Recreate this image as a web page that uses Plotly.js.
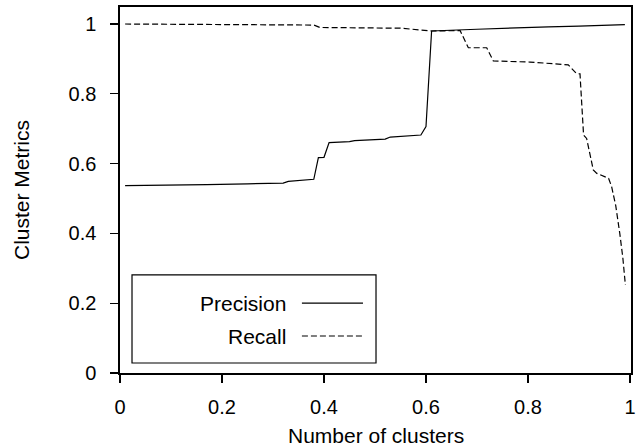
<!DOCTYPE html>
<html>
<head>
<meta charset="utf-8">
<script src="https://cdn.plot.ly/plotly-3.0.1.min.js"></script>
<style>html,body{margin:0;padding:0;background:#fff;}#chart{width:641px;height:446px;}</style>
</head>
<body>
<div id="chart"></div>
<script>
// Data
const precisionX = [0.01, 0.13, 0.17, 0.25, 0.32, 0.33, 0.35, 0.38, 0.389, 0.40, 0.41, 0.45, 0.46, 0.52, 0.53, 0.59, 0.60, 0.603, 0.611, 0.70, 0.78, 0.84, 0.90, 0.99];
const precisionY = [0.537, 0.538, 0.540, 0.542, 0.544, 0.549, 0.551, 0.555, 0.617, 0.618, 0.660, 0.663, 0.666, 0.670, 0.676, 0.682, 0.706, 0.780, 0.980, 0.985, 0.990, 0.992, 0.994, 0.998];
const recallX = [0.01, 0.38, 0.392, 0.55, 0.611, 0.667, 0.683, 0.719, 0.732, 0.804, 0.879, 0.895, 0.902, 0.909, 0.915, 0.928, 0.935, 0.958, 0.964, 0.972, 0.980, 0.986, 0.991];
const recallY = [1.0, 0.997, 0.990, 0.988, 0.980, 0.981, 0.932, 0.932, 0.894, 0.891, 0.883, 0.858, 0.857, 0.682, 0.672, 0.582, 0.572, 0.558, 0.534, 0.480, 0.400, 0.330, 0.252];
const seriesNames = ["Precision", "Recall"];
const xTicks = [0, 0.2, 0.4, 0.6, 0.8, 1];
const xTickText = ["0", "0.2", "0.4", "0.6", "0.8", "1"];
const yTicks = [0, 0.2, 0.4, 0.6, 0.8, 1];
const yTickText = ["0", "0.2", "0.4", "0.6", "0.8", "1"];
const xTitle = "Number of clusters";
const yTitle = "Cluster Metrics";

const FONT = "Liberation Sans, Arial, Helvetica, sans-serif";
const traces = [
  {x: precisionX, y: precisionY, name: seriesNames[0], mode: "lines", line: {color: "#000", width: 1.2}},
  {x: recallX, y: recallY, name: seriesNames[1], mode: "lines", line: {color: "#000", width: 1.2, dash: "6px,3px"}}
];

// legend drawn as paper-space box (text to the left of sample line)
const lg = {x0: 0.0235, x1: 0.501, y0: 0.0273, y1: 0.268, textX: 0.329, s0: 0.356, s1: 0.4755, rows: [0.191, 0.101]};
const shapes = [
  {type: "rect", xref: "paper", yref: "paper", x0: lg.x0, x1: lg.x1, y0: lg.y0, y1: lg.y1, line: {color: "#000", width: 1.2}, fillcolor: "#fff", layer: "above"}
];
const annotations = [
  {xref: "paper", yref: "paper", x: 0.5, y: -0.172, xanchor: "center", yanchor: "middle",
   text: xTitle, showarrow: false, font: {family: FONT, size: 21, color: "#000"}}
];
seriesNames.forEach((n, i) => {
  shapes.push({type: "line", xref: "paper", yref: "paper", x0: lg.s0, x1: lg.s1, y0: lg.rows[i], y1: lg.rows[i],
    line: {color: "#000", width: 1.1, dash: i === 0 ? "solid" : "6px,3px"}, layer: "above"});
  annotations.push({xref: "paper", yref: "paper", x: lg.textX, y: lg.rows[i], xanchor: "right", yanchor: "middle",
    text: n, showarrow: false, font: {family: FONT, size: 21, color: "#000"}});
});

const layout = {
  width: 641, height: 446,
  margin: {l: 120, r: 10, t: 7, b: 73},
  paper_bgcolor: "#fff", plot_bgcolor: "#fff",
  showlegend: false,
  font: {family: FONT, size: 20, color: "#000"},
  xaxis: {
    range: [0, 1.002], tickvals: xTicks, ticktext: xTickText,
    showgrid: false, zeroline: false, showline: true, mirror: true, linecolor: "#000", linewidth: 1.6,
    ticks: "outside", ticklen: 8, tickwidth: 1.2, tickcolor: "#000", ticklabelstandoff: 7,
    tickfont: {family: FONT, size: 20}
  },
  yaxis: {
    range: [0, 1.0487], tickvals: yTicks, ticktext: yTickText,
    showgrid: false, zeroline: false, showline: true, mirror: true, linecolor: "#000", linewidth: 1.6,
    ticks: "outside", ticklen: 8, tickwidth: 1.2, tickcolor: "#000", ticklabelstandoff: 10,
    tickfont: {family: FONT, size: 20},
    title: {text: yTitle, font: {family: FONT, size: 21}, standoff: 33}
  },
  shapes: shapes,
  annotations: annotations
};
Plotly.newPlot("chart", traces, layout, {displayModeBar: false, staticPlot: true});
</script>
</body>
</html>
